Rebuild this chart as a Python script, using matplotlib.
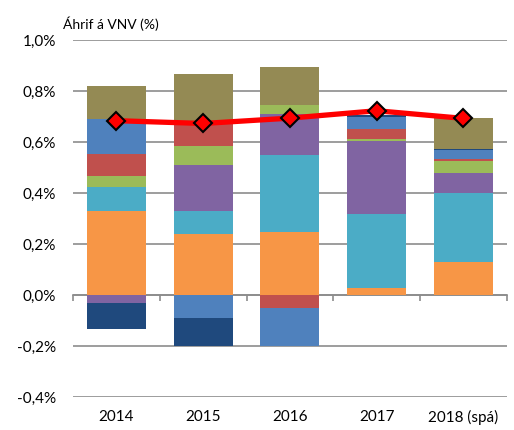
import numpy as np
import matplotlib
matplotlib.use("Agg")
import matplotlib.pyplot as plt

plt.rcParams['font.family'] = ['Lato', 'DejaVu Sans']

years = ["2014", "2015", "2016", "2017", "2018 (spá)"]

# framlag einstakra liða (prósentustig), neðst fyrst
orange = [0.329, 0.240, 0.247, 0.029, 0.128]
teal = [0.093, 0.089, 0.302, 0.287, 0.271]
purple = [-0.030, 0.183, 0.163, 0.289, 0.081]
green = [0.045, 0.071, 0.033, 0.008, 0.045]
red = [0.086, 0.092, -0.051, 0.037, 0.007]
light_blue = [0.138, -0.091, -0.149, 0.050, 0.037]
dark_blue = [-0.105, -0.108, 0.0, 0.006, 0.004]
olive = [0.129, 0.194, 0.148, 0.0, 0.120]

vnv = [0.684, 0.673, 0.694, 0.723, 0.693]

series = [
    (orange, "#F79646"),
    (teal, "#4BACC6"),
    (purple, "#8064A2"),
    (green, "#9BBB59"),
    (red, "#C0504D"),
    (light_blue, "#4F81BD"),
    (dark_blue, "#1F497D"),
    (olive, "#948A54"),
]

fig = plt.figure(figsize=(5.14, 4.30), dpi=100)
ax = fig.add_axes([0.142, 0.0767, 0.844, 0.830])

x = np.arange(len(years))
pos_bottom = np.zeros(len(years))
neg_bottom = np.zeros(len(years))
for vals, col in series:
    v = np.array(vals)
    bottom = np.where(v >= 0, pos_bottom, neg_bottom)
    ax.bar(x, v, 0.68, bottom=bottom, color=col, linewidth=0, zorder=3)
    pos_bottom += np.where(v >= 0, v, 0)
    neg_bottom += np.where(v < 0, v, 0)

ax.plot(x, vnv, color="#FF0000", lw=3.8, marker="D", ms=9,
        markerfacecolor="#FF0000", markeredgecolor="black",
        markeredgewidth=1.5, zorder=5)

ax.set_xlim(-0.5, len(years) - 0.5)
ax.set_ylim(-0.4, 1.0)
yt = np.arange(-0.4, 1.01, 0.2)
ax.set_yticks(yt)
ax.set_yticklabels([f"{t:.1f}%".replace(".", ",") for t in yt], fontsize=11)
ax.tick_params(axis="y", length=0, pad=12)
ax.grid(axis="y", color="#8C8C8C", lw=1.2, zorder=0)

ax.set_xticks(x)
ax.set_xticklabels(years, fontsize=11)
ax.tick_params(axis="x", length=0, pad=9)

for s in ax.spines.values():
    s.set_visible(False)

sec = ax.secondary_xaxis(0, transform=ax.transData)
sec.set_xticks(np.arange(-0.5, len(years), 1.0))
sec.set_xticklabels([])
sec.tick_params(length=4, width=1.2, color="#8C8C8C")
sec.spines["bottom"].set_color("#8C8C8C")
sec.spines["bottom"].set_linewidth(1.2)

fig.text(0.122, 0.945, "Áhrif á VNV (%)", fontsize=10, ha="left", va="center")

fig.savefig("out.png", dpi=100)
